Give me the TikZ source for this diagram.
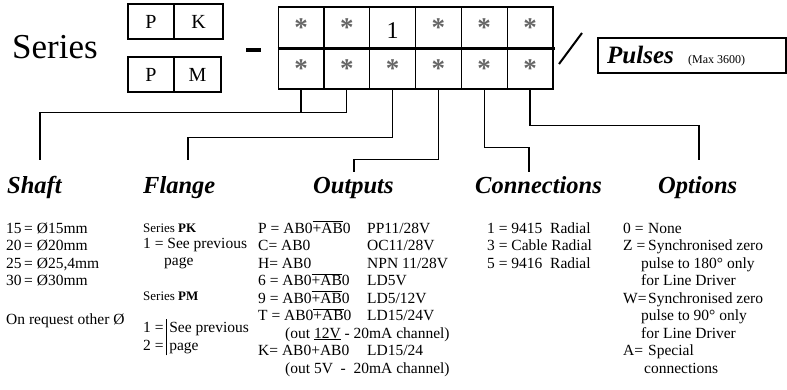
\documentclass[tikz,border=0pt]{standalone}
\usepackage{fontspec}
\setmainfont{Liberation Serif}
\newcommand{\ovl}[1]{$\overline{\mbox{#1}}$}
\setlength{\arrayrulewidth}{1.2pt}

\begin{document}
\begin{tikzpicture}[x=1pt,y=-1pt,cell/.style={draw,line width=1.2pt,minimum width=45.8pt,minimum height=41pt,inner sep=0pt,text=black!60,font=\fontsize{27}{27}\selectfont\bfseries},letter/.style={draw,line width=1.2pt,minimum height=35pt,inner sep=0pt,font=\fontsize{20}{20}\selectfont},head/.style={inner sep=0pt,anchor=base west,font=\fontsize{24.5}{24.5}\selectfont\bfseries\itshape},txt/.style={inner sep=0pt,anchor=base west,font=\fontsize{15.5}{17.5}\selectfont},conn/.style={line width=1.2pt}]
\useasboundingbox (0,0) rectangle (787,389);
% order code
\node[inner sep=0pt,anchor=base west,font=\fontsize{35}{35}\selectfont] (series) at (12,58) {Series};
\node[letter,minimum width=46pt] (pk1) at (151,21.5) {P};
\node[letter,minimum width=49pt] (pk2) at (198.5,21.5) {K};
\node[letter,minimum width=46pt] (pm1) at (151,74.5) {P};
\node[letter,minimum width=47pt] (pm2) at (197.5,74.5) {M};
\node[fill=black,minimum width=15pt,minimum height=3.5pt,inner sep=0pt] (dash) at (253.5,50) {};
\node[cell] (t1) at (301,27.5) {*};
\node[cell] (t2) at (346.8,27.5) {*};
\node[cell,text=black,font=\fontsize{24}{24}\selectfont,text height=22pt] (t3) at (392.6,27.5) {1};
\node[cell] (t4) at (438.4,27.5) {*};
\node[cell] (t5) at (484.2,27.5) {*};
\node[cell] (t6) at (530,27.5) {*};
\node[cell] (c1) at (301,68.5) {*};
\node[cell] (c2) at (346.8,68.5) {*};
\node[cell] (c3) at (392.6,68.5) {*};
\node[cell] (c4) at (438.4,68.5) {*};
\node[cell] (c5) at (484.2,68.5) {*};
\node[cell] (c6) at (530,68.5) {*};
\draw[line width=2.5pt] (t1.south west) -- ([xshift=1pt]t6.south east);
\draw[line width=2pt] (582,33) -- (559,64);
\node[draw,line width=1.5pt,minimum width=188pt,minimum height=35pt,inner sep=0pt] (pulsebox) at (692,55.5) {};
\node[inner sep=0pt,anchor=base west,font=\fontsize{25}{25}\selectfont\bfseries\itshape] (pulses) at (607,63) {Pulses};
\node[inner sep=0pt,anchor=base west,font=\fontsize{12}{12}\selectfont] (pulsemax) at (688,63) {(Max 3600)};
% headings
\node[head] (shaft) at (7,193) {Shaft};
\node[head] (flange) at (143,193) {Flange};
\node[head] (outputs) at (313,193) {Outputs};
\node[head] (connections) at (475,193) {Connections};
\node[head] (options) at (658,193) {Options};
\coordinate (shaftin) at (40,160);
\coordinate (flangein) at (188,160);
\coordinate (outputsin) at (354,172);
\coordinate (connin) at (529,172);
\coordinate (optin) at (699,160);
\draw[conn] (c1.south) -- ++(0,23) -| (c2.south);
\draw[conn] (c1.south) ++(0,23) -| (shaftin);
\draw[conn] (c3.south) -- ++(0,48) -| (flangein);
\draw[conn] (c4.south) -- ++(0,70) -| (outputsin);
\draw[conn] (c5.south) -- ++(0,58) -| (connin);
\draw[conn] (c6.south) -- ++(0,36) -| (optin);
% lists
\node[txt] (shaftlist) at (6,233) {\begin{tabular}[t]{@{}p{18pt}@{}l@{}}15&= Ø15mm\\20&= Ø20mm\\25&= Ø25,4mm\\30&= Ø30mm\end{tabular}};
\node[txt] (shaftnote) at (6,324) {On request other Ø};
\node[txt,font=\fontsize{13}{16.5}\selectfont] (pkhead) at (143,232) {Series \textbf{PK}};
\node[txt] (pkrow) at (143,248) {\begin{tabular}[t]{@{}l@{}}1 = See previous\\\hspace{21pt}page\end{tabular}};
\node[txt,font=\fontsize{13}{16.5}\selectfont] (pmhead) at (143,300) {Series \textbf{PM}};
\node[txt,font=\fontsize{15.5}{18}\selectfont] (pmrow) at (143,332) {\begin{tabular}[t]{@{}l@{\,}|@{\,}l@{}}1 =&See previous\\2 =&page\end{tabular}};
\node[txt] (outlist) at (258,233) {\begin{tabular}[t]{@{}p{109pt}@{}l@{}}
P = AB0\ovl{+AB}0&PP11/28V\\
C= AB0&OC11/28V\\
H= AB0&NPN 11/28V\\
6 = AB0\ovl{+AB}0&LD5V\\
9 = AB0\ovl{+AB}0&LD5/12V\\
T = AB0\ovl{+AB}0&LD15/24V\\
\multicolumn{2}{@{}l@{}}{\hspace{27pt}(out \underline{12V} - 20mA channel)}\\
K= AB0+AB0&LD15/24\\
\multicolumn{2}{@{}l@{}}{\hspace{27pt}(out 5V\ \ -\ \ 20mA channel)}
\end{tabular}};
\node[txt] (connlist) at (487,233) {\begin{tabular}[t]{@{}l@{}}1 = 9415\ \ Radial\\3 = Cable Radial\\5 = 9416\ \ Radial\end{tabular}};
\node[txt] (optlist) at (623,233) {\begin{tabular}[t]{@{}p{25pt}@{}l@{}}0 =&None\\Z =&Synchronised zero\\&\hspace{-7pt}pulse to 180° only\\&\hspace{-7pt}for Line Driver\\W=&Synchronised zero\\&\hspace{-7pt}pulse to 90° only\\&\hspace{-7pt}for Line Driver\\A=&Special\\&\hspace{-4pt}connections\end{tabular}};
\end{tikzpicture}
\end{document}
